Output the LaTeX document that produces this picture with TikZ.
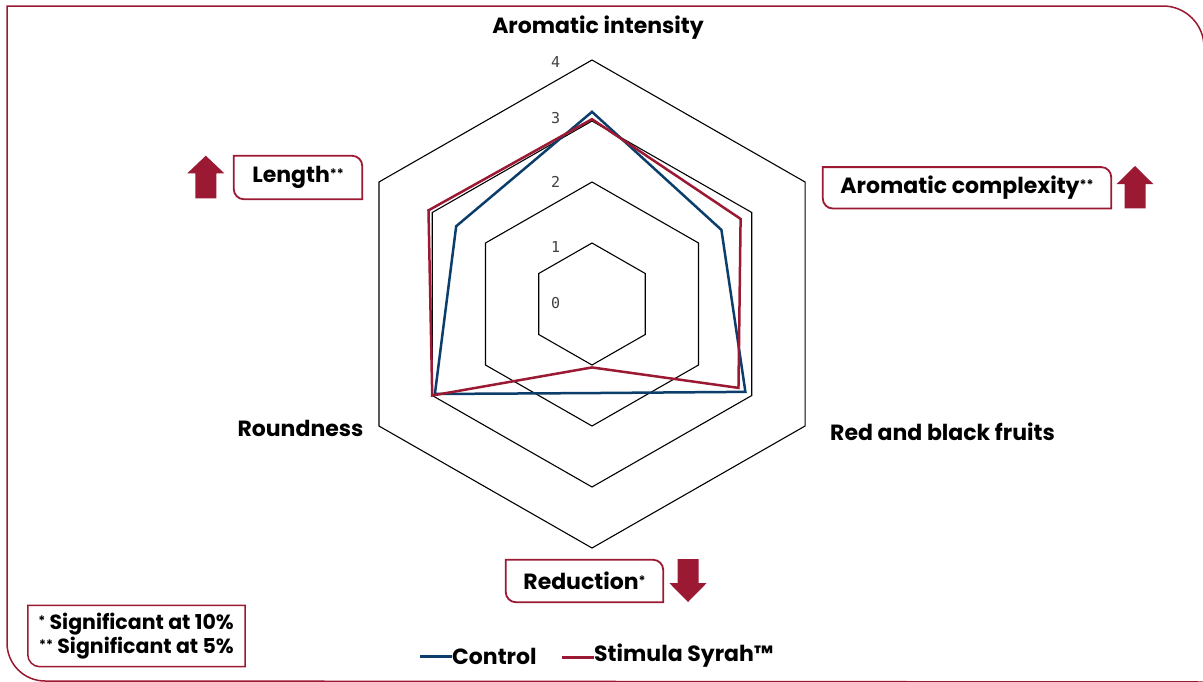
\documentclass[tikz,border=0pt]{standalone}
\usepackage{fontspec}
\setmainfont{Poppins}
\newfontfamily\tickfont{DejaVu Sans Mono}
\definecolor{wred}{RGB}{155,25,50}
\definecolor{wblue}{RGB}{12,62,108}
\newcommand\stars[1]{{\fontsize{13}{13}\selectfont\raisebox{4pt}{#1}}}
\newcommand\leafbox[2]{%
  \draw[boxline] (#1.north west) -- ([xshift=-#2]#1.north east)
    arc[start angle=90,end angle=0,radius=#2] -- (#1.south east)
    -- ([xshift=#2]#1.south west) arc[start angle=270,end angle=180,radius=#2] -- cycle;}
\begin{document}
\begin{tikzpicture}[x=1pt,y=-1pt,
  lab/.style={font=\fontsize{22}{26}\selectfont\bfseries, text=black, inner sep=0pt},
  sig/.style={font=\fontsize{20.5}{24}\selectfont\bfseries, text=black, inner sep=0pt},
  tick/.style={font=\tickfont\fontsize{15}{18}\selectfont, text=black!75, inner sep=0pt},
  gridhex/.style={draw=black, line width=1.1pt, line join=miter},
  ser/.style={line width=2.5pt, line join=miter},
  boxline/.style={draw=wred, line width=1.8pt},
  frame/.style={draw=wred, line width=1.5pt},
  legline/.style={line width=3pt}]
\useasboundingbox (0,0) rectangle (1203,681);
\fill[white] (0,0) rectangle (1203,681);
% outer frame
\draw[frame] (1204,800) -- (1204,47) arc[start angle=0,end angle=90,radius=41pt]
  -- (7,6) -- (7,643) arc[start angle=180,end angle=270,radius=38pt] -- (1210,682);
% radar
\begin{scope}[shift={(592,304)}]
\begin{scope}[x=61.5pt,y=61pt]
\foreach \r in {1,2,3,4}
  \draw[gridhex] (90:\r) -- (30:\r) -- (-30:\r) -- (-90:\r) -- (-150:\r) -- (150:\r) -- cycle;
\draw[ser, wblue] (90:3.15) -- (30:2.43) -- (-30:2.88) -- (-90:1.46) -- (-150:2.95) -- (150:2.55) -- cycle;
\draw[ser, wred] (90:3.03) -- (30:2.79) -- (-30:2.75) -- (-90:1.04) -- (-150:3.0) -- (150:3.07) -- cycle;
\end{scope}
\end{scope}
% ticks
\node[tick] (t4) at (555.7,61.7) {4};
\node[tick] (t3) at (555.7,118.3) {3};
\node[tick] (t2) at (555.7,181.7) {2};
\node[tick] (t1) at (555.7,246.7) {1};
\node[tick] (t0) at (555.7,303.3) {0};
% axis labels
\node[lab] (ai) at (598,28) {Aromatic intensity};
\node[lab] (rbf) at (942.5,432) {Red and black fruits};
\node[lab] (rnd) at (300.5,428) {Roundness};
\node[lab, minimum width=128pt, minimum height=43pt] (len) at (298,177.5) {Length\stars{**}};
\leafbox{len}{10pt}
\node[lab, minimum width=288pt, minimum height=41pt] (cpx) at (967,187.8) {Aromatic complexity\stars{**}};
\leafbox{cpx}{10pt}
\node[lab, minimum width=157pt, minimum height=42pt] (red) at (584.5,581) {Reduction\stars{*}};
\leafbox{red}{10pt}
% arrows
\fill[wred] (205.8,155.7) -- (224.3,173.3) -- (216.3,173.3) -- (216.3,198.3) -- (195.3,198.3) -- (195.3,173.3) -- (187.3,173.3) -- cycle;
\fill[wred] (1135,166) -- (1153.3,184) -- (1145.5,184) -- (1145.5,208.3) -- (1124.5,208.3) -- (1124.5,184) -- (1116.7,184) -- cycle;
\fill[wred] (688,602) -- (706.7,583) -- (698.5,583) -- (698.5,559) -- (677.5,559) -- (677.5,583) -- (669.3,583) -- cycle;
% significance box
\node[minimum width=217pt, minimum height=61pt, inner sep=0pt] (sigbox) at (136.5,636) {};
\draw[boxline, line width=1.5pt] (sigbox.north west) -- (sigbox.north east) -- (sigbox.south east)
  -- ([xshift=12pt]sigbox.south west) arc[start angle=270,end angle=180,radius=12pt] -- cycle;
\node[sig, anchor=east] (s1) at (234,624) {\stars{*} Significant at 10\%};
\node[sig, anchor=east] (s2) at (234,648) {\stars{**} Significant at 5\%};
% legend
\node[lab, anchor=west] (ctl) at (452,656) {Control};
\coordinate (cb) at (420,656.5);
\draw[legline, wblue] (cb) -- (ctl.west |- cb);
\node[lab, anchor=west] (stm) at (594,656) {Stimula Syrah™};
\coordinate (cr) at (562,657);
\draw[legline, wred] (cr) -- (stm.west |- cr);
\end{tikzpicture}
\end{document}
